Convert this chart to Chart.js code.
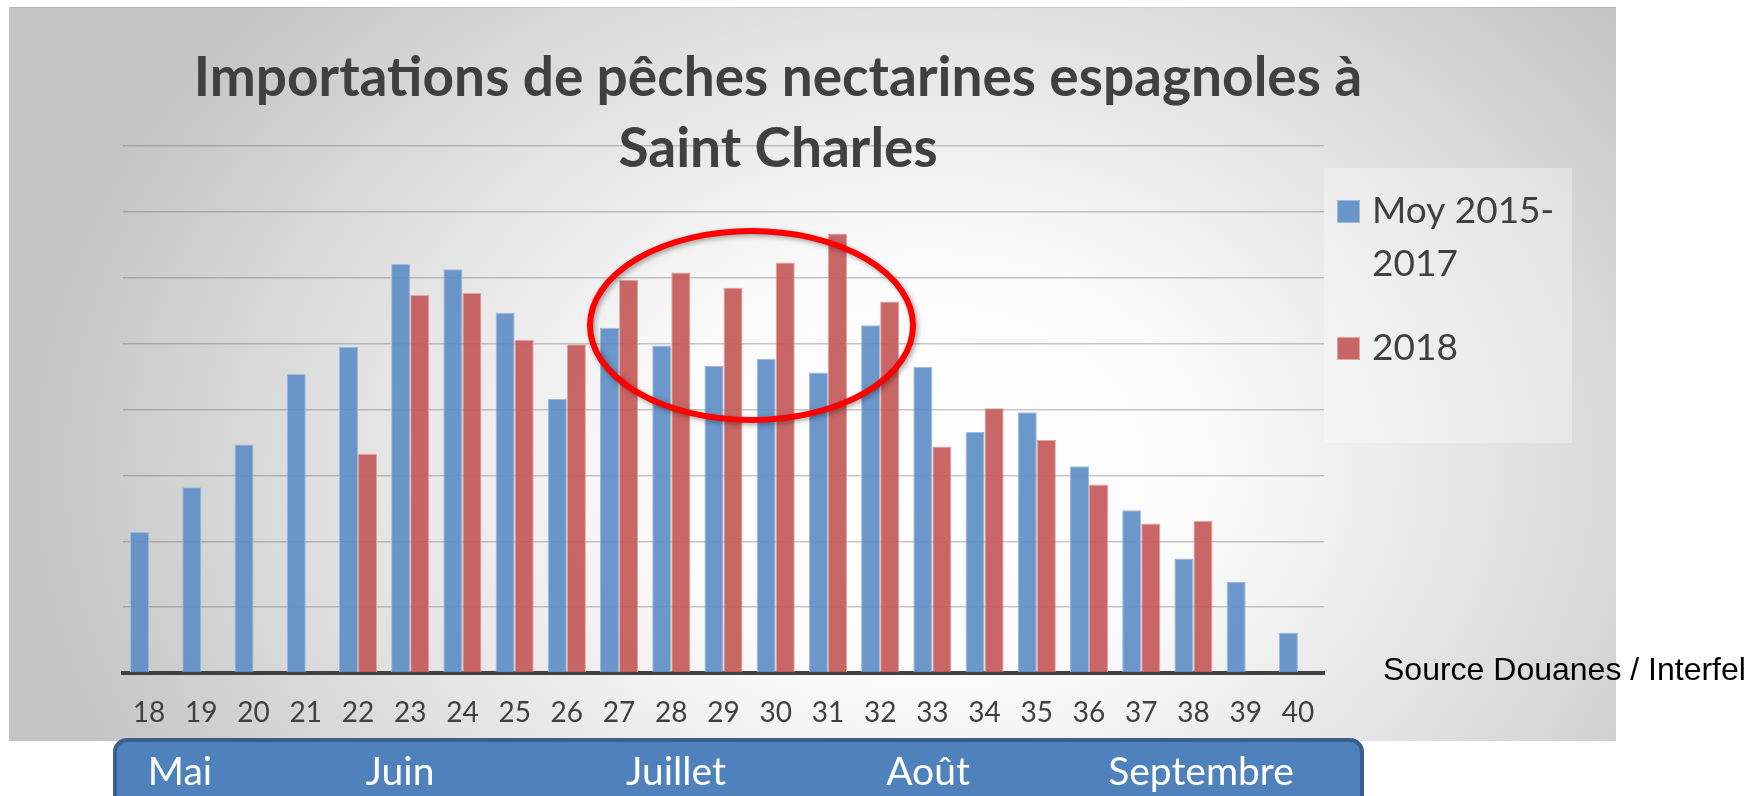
<!DOCTYPE html>
<html>
<head>
<meta charset="utf-8">
<script src="https://cdn.jsdelivr.net/npm/chart.js@4"></script>
<style>
  html, body { margin: 0; padding: 0; background: #ffffff; }
  #wrap { width: 1754px; height: 796px; position: relative; }
</style>
</head>
<body>
<div id="wrap"><canvas id="c" width="1754" height="796"></canvas></div>
<script>
// ---- Data ----
const weeks = ['18','19','20','21','22','23','24','25','26','27','28','29','30','31','32','33','34','35','36','37','38','39','40'];
const moy20152017 = [214, 282, 347, 454, 495, 621, 613, 547, 416, 524, 497, 466, 477, 456, 528, 465, 366, 396, 314, 247, 174, 138, 61];
const imports2018 = [null, null, null, null, 333, 574, 577, 506, 499, 597, 608, 585, 623, 667, 564, 344, 402, 354, 286, 227, 231, null, null];
const seriesNames = [['Moy 2015-', '2017'], ['2018']];
const titleLines = ['Importations de pêches nectarines espagnoles à', 'Saint Charles'];
const months = ['Mai', 'Juin', 'Juillet', 'Août', 'Septembre'];
const sourceNote = 'Source Douanes / Interfel';

// ---- Styles ----
const BLUE = 'rgba(96,142,198,0.92)';
const BLUE_EDGE = '#9dbbe0';
const RED = 'rgba(196,89,89,0.92)';
const RED_EDGE = '#e4a2a2';
const TEXT = '#404040';

const decor = {
  id: 'decor',
  beforeDraw(chart) {
    const ctx = chart.ctx;
    ctx.save();
    const x0 = 9, y0 = 7, x1 = 1616, y1 = 741;
    ctx.save();
    ctx.beginPath();
    ctx.rect(x0, y0, x1 - x0, y1 - y0);
    ctx.clip();
    ctx.translate(930, 470);
    ctx.scale(1.3, 1);
    const g = ctx.createRadialGradient(0, 0, 0, 0, 0, 700);
    g.addColorStop(0, '#ffffff');
    g.addColorStop(0.3, '#fbfbfb');
    g.addColorStop(0.65, '#e1e1e1');
    g.addColorStop(1, '#c4c4c4');
    ctx.fillStyle = g;
    ctx.fillRect(-1000, -800, 2000, 1600);
    ctx.restore();
    ctx.strokeStyle = 'rgba(0,0,0,0.08)';
    ctx.lineWidth = 1;
    ctx.beginPath();
    ctx.moveTo(x0, y0 + 0.5); ctx.lineTo(x1, y0 + 0.5);
    ctx.stroke();
    // legend box
    ctx.fillStyle = 'rgba(255,255,255,0.33)';
    ctx.fillRect(1324, 168, 248, 275);
    ctx.restore();
  },
  afterDraw(chart) {
    const ctx = chart.ctx;
    ctx.save();
    // title
    ctx.fillStyle = TEXT;
    ctx.font = 'bold 55px Lato';
    ctx.textAlign = 'center';
    ctx.textBaseline = 'alphabetic';
    ctx.fillText(titleLines[0], 778, 96);
    ctx.fillText(titleLines[1], 778, 167);

    // legend
    const legItems = [
      { color: BLUE, edge: BLUE_EDGE, y: 200 },
      { color: RED, edge: RED_EDGE, y: 337 }
    ];
    ctx.font = '37px Lato';
    ctx.textAlign = 'left';
    legItems.forEach((it, i) => {
      ctx.fillStyle = it.color;
      ctx.fillRect(1337, it.y, 23, 23);
      ctx.strokeStyle = it.edge;
      ctx.lineWidth = 1;
      ctx.strokeRect(1337.5, it.y + 0.5, 22, 22);
      ctx.fillStyle = TEXT;
      seriesNames[i].forEach((line, k) => {
        ctx.fillText(line, 1372, it.y + 23 + k * 53);
      });
    });

    // source note
    ctx.fillStyle = '#000000';
    ctx.font = '32px "Liberation Sans", Arial, sans-serif';
    ctx.fillText(sourceNote, 1383, 680);

    // highlight ellipse
    ctx.save();
    ctx.shadowColor = 'rgba(0,0,0,0.35)';
    ctx.shadowBlur = 5;
    ctx.shadowOffsetX = 2;
    ctx.shadowOffsetY = 2;
    ctx.strokeStyle = '#ff0000';
    ctx.lineWidth = 6;
    ctx.beginPath();
    ctx.ellipse(751.5, 325.5, 161.5, 94.5, 0, 0, Math.PI * 2);
    ctx.stroke();
    ctx.restore();

    // month band
    ctx.fillStyle = '#4f81bd';
    ctx.strokeStyle = '#3a5f8f';
    ctx.lineWidth = 4;
    ctx.beginPath();
    ctx.roundRect(115, 740, 1247, 80, 12);
    ctx.fill();
    ctx.stroke();
    ctx.fillStyle = '#ffffff';
    ctx.font = '39px Lato';
    ctx.textAlign = 'center';
    const monthCenters = [180, 400, 676, 928, 1201];
    months.forEach((m, i) => ctx.fillText(m, monthCenters[i], 785));
    ctx.restore();
  }
};

new Chart(document.getElementById('c'), {
  type: 'bar',
  data: {
    labels: weeks,
    datasets: [
      { label: 'Moy 2015-2017', data: moy20152017, backgroundColor: BLUE, borderColor: BLUE_EDGE, borderWidth: 1, borderSkipped: 'start' },
      { label: '2018', data: imports2018, backgroundColor: RED, borderColor: RED_EDGE, borderWidth: 1, borderSkipped: 'start' }
    ]
  },
  options: {
    responsive: false,
    animation: false,
    devicePixelRatio: 1,
    layout: { padding: { left: 123, right: 430, top: 146, bottom: 63 } },
    plugins: { legend: { display: false }, title: { display: false }, tooltip: { enabled: false } },
    datasets: { bar: { categoryPercentage: 0.73, barPercentage: 1.0 } },
    scales: {
      x: {
        afterFit(s) { s.height = 60; },
        grid: { display: false, drawTicks: false },
        border: { display: true, color: '#404040', width: 4 },
        ticks: { color: TEXT, font: { family: 'Lato', size: 28 }, padding: 23, maxRotation: 0, autoSkip: false }
      },
      y: {
        min: 0, max: 800,
        afterFit(s) { s.width = 0; },
        ticks: { display: false, stepSize: 100 },
        border: { display: false },
        grid: { color: 'rgba(110,110,110,0.38)', lineWidth: 1.5, drawTicks: false }
      }
    }
  },
  plugins: [decor]
});
</script>
</body>
</html>
